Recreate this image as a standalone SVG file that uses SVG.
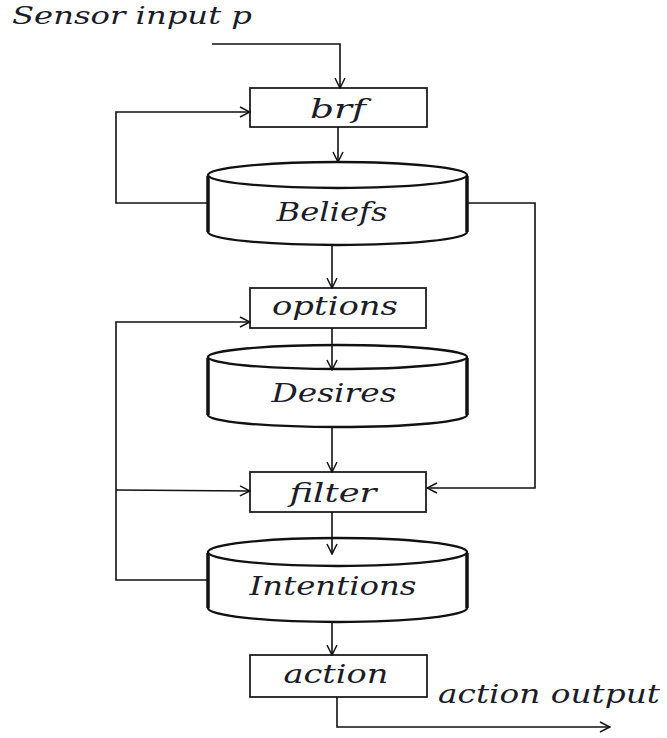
<svg xmlns="http://www.w3.org/2000/svg" width="667" height="738" viewBox="0 0 667 738">
<style>
.t{font-family:"DejaVu Serif","Liberation Serif",serif;font-style:italic;font-size:26px;fill:#1c1c28;}
.box{fill:#fff;stroke:#111;stroke-width:1.7;}
.cyl{fill:#fff;stroke:#111;stroke-width:2.3;}
.wall{fill:none;stroke:#111;stroke-width:3.4;}
.c{fill:none;stroke:#111;stroke-width:1.6;}
</style>
<defs>
<marker id="a" viewBox="0 0 12 12" refX="11" refY="6" markerWidth="12" markerHeight="12" markerUnits="userSpaceOnUse" orient="auto">
<path d="M1,1 L11,6 L1,11" fill="none" stroke="#111" stroke-width="1.5"/>
</marker>
</defs>
<text class="t" x="12" y="24" style="font-size:24px" textLength="240" lengthAdjust="spacingAndGlyphs">Sensor input p</text>
<g id="brf"><rect class="box" x="250" y="88" width="177" height="39"/><text class="t" x="338" y="118" text-anchor="middle" textLength="56" lengthAdjust="spacingAndGlyphs">brf</text></g>
<g id="beliefs">
<path class="cyl" d="M208,175 L208,232 A129.5,13 0 0 0 467,232 L467,175"/>
<ellipse class="cyl" cx="337.5" cy="175" rx="129.5" ry="13"/>
<path class="wall" d="M208,176 L208,232 M467,176 L467,232"/>
<text class="t" x="332" y="221" text-anchor="middle" textLength="111" lengthAdjust="spacingAndGlyphs">Beliefs</text></g>
<g id="options"><rect class="box" x="250" y="288" width="176" height="40"/><text class="t" x="335" y="315" text-anchor="middle" textLength="126" lengthAdjust="spacingAndGlyphs">options</text></g>
<g id="desires">
<path class="cyl" d="M208,357 L208,415 A129.5,12 0 0 0 467,415 L467,357"/>
<ellipse class="cyl" cx="337.5" cy="357" rx="129.5" ry="12"/>
<path class="wall" d="M208,358 L208,415 M467,358 L467,415"/>
<text class="t" x="334" y="402" text-anchor="middle" textLength="125" lengthAdjust="spacingAndGlyphs">Desires</text></g>
<g id="filter"><rect class="box" x="250" y="472" width="176" height="40"/><text class="t" x="333" y="502" text-anchor="middle" textLength="87" lengthAdjust="spacingAndGlyphs">filter</text></g>
<g id="intentions">
<path class="cyl" d="M208,552 L208,608 A129.5,14 0 0 0 467,608 L467,552"/>
<ellipse class="cyl" cx="337.5" cy="552" rx="129.5" ry="14"/>
<path class="wall" d="M208,553 L208,608 M467,553 L467,608"/>
<text class="t" x="333" y="595" text-anchor="middle" textLength="167" lengthAdjust="spacingAndGlyphs">Intentions</text></g>
<g id="action"><rect class="box" x="250" y="655" width="177" height="42"/><text class="t" x="336" y="683" text-anchor="middle" textLength="105" lengthAdjust="spacingAndGlyphs">action</text></g>
<text class="t" x="438" y="703" textLength="222" lengthAdjust="spacingAndGlyphs">action output</text>
<g id="connectors">
<path class="c" d="M212,44 L340,44 L340,88" marker-end="url(#a)"/>
<path class="c" d="M338,127 L338,162" marker-end="url(#a)"/>
<path class="c" d="M208,203 L116,203 L116,112 L250,112" marker-end="url(#a)"/>
<path class="c" d="M467,203 L535,203 L535,488 L427,488" marker-end="url(#a)"/>
<path class="c" d="M332,245 L332,288" marker-end="url(#a)"/>
<path class="c" d="M332,328 L332,370" marker-end="url(#a)"/>
<path class="c" d="M208,580 L116,580 L116,322 L250,322" marker-end="url(#a)"/>
<path class="c" d="M116,490 L250,491" marker-end="url(#a)"/>
<path class="c" d="M332,427 L332,472" marker-end="url(#a)"/>
<path class="c" d="M332,512 L332,554" marker-end="url(#a)"/>
<path class="c" d="M332,622 L332,655" marker-end="url(#a)"/>
<path class="c" d="M337,697 L337,727 L610,727" marker-end="url(#a)"/>
</g>
</svg>
